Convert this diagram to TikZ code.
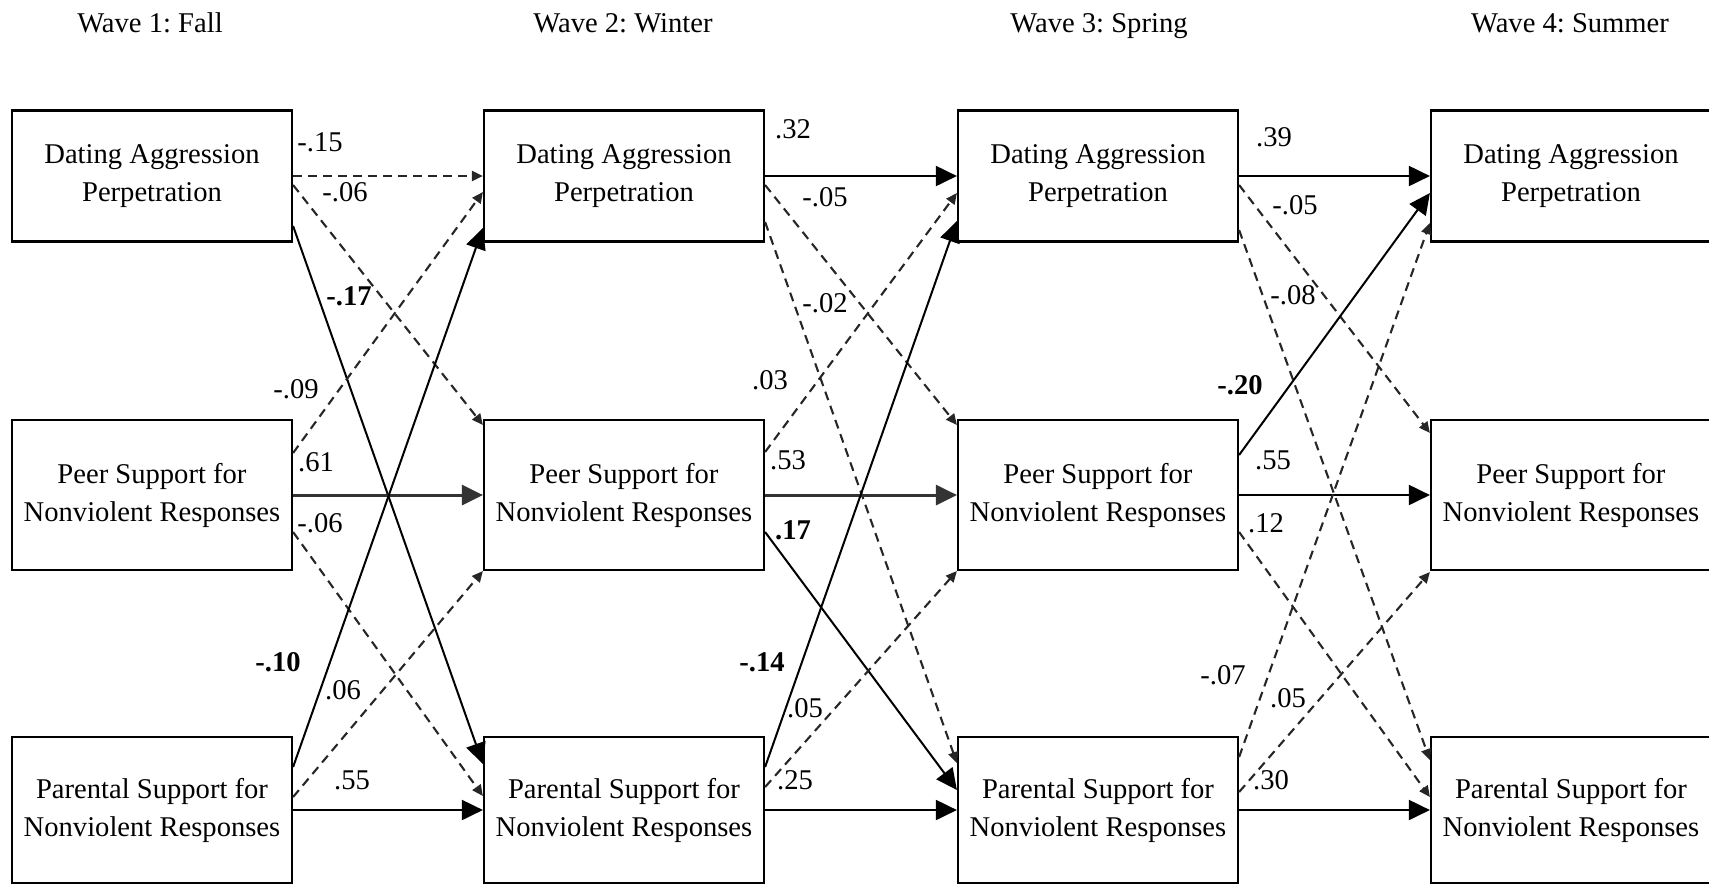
\documentclass[tikz,border=0pt]{standalone}
\usepackage{fontspec}
\setmainfont{Liberation Serif}
\usetikzlibrary{arrows.meta,calc}

\begin{document}
\frenchspacing
\begin{tikzpicture}[x=0.5pt,y=-0.5pt,
  txt/.style={font=\fontsize{14.3pt}{19pt}\selectfont},
  var/.style={txt, draw, line width=1.1pt, minimum width=140pt, align=center, inner sep=0pt},
  toprow/.style={var, minimum height=65.5pt},
  midrow/.style={var, minimum height=75pt},
  botrow/.style={var, minimum height=73pt},
  sig/.style={line width=1pt, -{Triangle[length=10.5pt,width=10pt]}},
  sigthick/.style={sig, line width=1.5pt, black!80},
  ns/.style={line width=1.05pt, black!85, dash pattern=on 4.5pt off 3pt, -{Triangle[length=5.5pt,width=5pt]}},
  coef/.style={txt, inner sep=0pt},
  bcoef/.style={coef, font=\fontsize{14.3pt}{19pt}\selectfont\bfseries},
  wave/.style={coef, anchor=base},
]
\useasboundingbox (0,0) rectangle (1709,885);

% wave headings
\node[wave] (w1) at (150,32) {Wave 1: Fall};
\node[wave] (w2) at (623,32) {Wave 2: Winter};
\node[wave] (w3) at (1099,32) {Wave 3: Spring};
\node[wave] (w4) at (1570,32) {Wave 4: Summer};

% variables, one column per wave
\foreach \i/\x in {1/152, 2/624, 3/1098, 4/1571} {
  \node[toprow] (d\i) at (\x,176) {Dating Aggression\\Perpetration};
  \node[midrow] (p\i) at (\x,495) {Peer Support for\\Nonviolent Responses};
  \node[botrow] (r\i) at (\x,810) {Parental Support for\\Nonviolent Responses};
}

% ---- Wave 1 -> Wave 2
\draw[ns]  (d1.east) -- (d2.west);
\draw[ns]  ($(d1.east)+(0,9)$)   -- ($(p2.west)+(0,-70)$);
\draw[sig] ($(d1.east)+(0,50)$)  -- ($(r2.west)+(0,-46)$);
\draw[ns]  ($(p1.east)+(0,-42)$) -- ($(d2.west)+(0,16)$);
\draw[sigthick] (p1.east) -- (p2.west);
\draw[ns]  ($(p1.east)+(0,37)$)  -- ($(r2.west)+(0,-14)$);
\draw[sig] ($(r1.east)+(0,-43)$) -- ($(d2.west)+(0,52)$);
\draw[ns]  ($(r1.east)+(0,-13)$) -- ($(p2.west)+(0,76)$);
\draw[sig] (r1.east) -- (r2.west);

% ---- Wave 2 -> Wave 3
\draw[sig] (d2.east) -- (d3.west);
\draw[ns]  ($(d2.east)+(0,9)$)   -- ($(p3.west)+(0,-70)$);
\draw[ns]  ($(d2.east)+(0,46)$)  -- ($(r3.west)+(0,-47)$);
\draw[ns]  ($(p2.east)+(0,-43)$) -- ($(d3.west)+(0,17)$);
\draw[sigthick] (p2.east) -- (p3.west);
\draw[sig] ($(p2.east)+(0,37)$)  -- ($(r3.west)+(0,-20)$);
\draw[sig] ($(r2.east)+(0,-43)$) -- ($(d3.west)+(0,45)$);
\draw[ns]  ($(r2.east)+(0,-23)$) -- ($(p3.west)+(0,76)$);
\draw[sig] (r2.east) -- (r3.west);

% ---- Wave 3 -> Wave 4
\draw[sig] (d3.east) -- (d4.west);
\draw[ns]  ($(d3.east)+(0,9)$)   -- ($(p4.west)+(0,-62)$);
\draw[ns]  ($(d3.east)+(0,54)$)  -- ($(r4.west)+(0,-50)$);
\draw[sig] ($(p3.east)+(0,-40)$) -- ($(d4.west)+(0,17)$);
\draw[sig] (p3.east) -- (p4.west);
\draw[ns]  ($(p3.east)+(0,37)$)  -- ($(r4.west)+(0,-13)$);
\draw[ns]  ($(r3.east)+(0,-53)$) -- ($(d4.west)+(0,47)$);
\draw[ns]  ($(r3.east)+(0,-18)$) -- ($(p4.west)+(0,77)$);
\draw[sig] (r3.east) -- (r4.west);

% path coefficients, Wave 1 -> Wave 2
\node[coef]  (c1)  at (320,142) {-.15};
\node[coef]  (c2)  at (345,192) {-.06};
\node[bcoef] (c3)  at (349,296) {-.17};
\node[coef]  (c4)  at (296,389) {-.09};
\node[coef]  (c5)  at (316,462) {.61};
\node[coef]  (c6)  at (320,523) {-.06};
\node[bcoef] (c7)  at (278,662) {-.10};
\node[coef]  (c8)  at (343,690) {.06};
\node[coef]  (c9)  at (352,780) {.55};

% path coefficients, Wave 2 -> Wave 3
\node[coef]  (c10) at (793,129) {.32};
\node[coef]  (c11) at (825,197) {-.05};
\node[coef]  (c12) at (825,303) {-.02};
\node[coef]  (c13) at (770,380) {.03};
\node[coef]  (c14) at (788,460) {.53};
\node[bcoef] (c15) at (793,530) {.17};
\node[bcoef] (c16) at (762,662) {-.14};
\node[coef]  (c17) at (805,708) {.05};
\node[coef]  (c18) at (795,780) {.25};

% path coefficients, Wave 3 -> Wave 4
\node[coef]  (c19) at (1274,137) {.39};
\node[coef]  (c20) at (1295,205) {-.05};
\node[coef]  (c21) at (1293,295) {-.08};
\node[bcoef] (c22) at (1240,385) {-.20};
\node[coef]  (c23) at (1273,460) {.55};
\node[coef]  (c24) at (1266,523) {.12};
\node[coef]  (c25) at (1223,675) {-.07};
\node[coef]  (c26) at (1288,698) {.05};
\node[coef]  (c27) at (1271,780) {.30};
\end{tikzpicture}
\end{document}
